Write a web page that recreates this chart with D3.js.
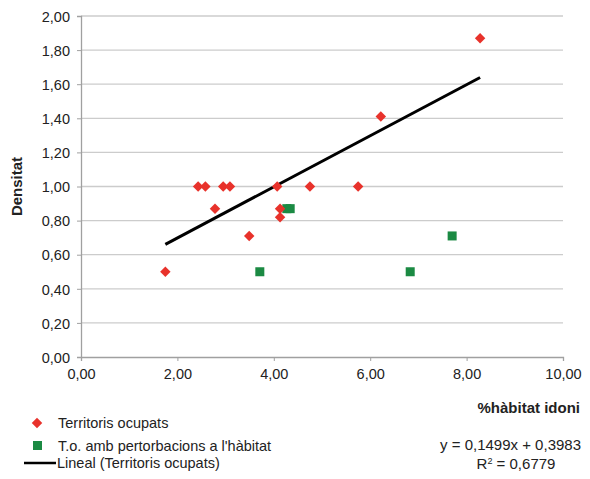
<!DOCTYPE html>
<html>
<head>
<meta charset="utf-8">
<script src="https://cdn.jsdelivr.net/npm/d3@7"></script>
<style>
  body { margin: 0; background: #fff; }
  text { font-family: "Liberation Sans", Arial, sans-serif; fill: #222; }
</style>
</head>
<body>
<script>
// Territoris ocupats (red diamonds)
var ocupatsX = [1.75, 2.43, 2.58, 2.78, 2.95, 3.09, 3.49, 4.07, 4.13, 4.13, 4.75, 5.75, 6.22, 8.28];
var ocupatsY = [0.50, 1.00, 1.00, 0.87, 1.00, 1.00, 0.71, 1.00, 0.87, 0.82, 1.00, 1.00, 1.41, 1.87];

// T.o. amb pertorbacions a l'habitat (green squares)
var pertX = [3.71, 4.27, 4.34, 6.83, 7.70];
var pertY = [0.50, 0.87, 0.87, 0.50, 0.71];

// linear trend of the occupied territories
var slope = 0.1499;
var intercept = 0.3983;

var xTicks = [0, 2, 4, 6, 8, 10];
var yTicks = [0, 0.2, 0.4, 0.6, 0.8, 1.0, 1.2, 1.4, 1.6, 1.8, 2.0];

var width = 590, height = 479;
var margin = {top: 16, right: 27, bottom: 122, left: 81};
var w = width - margin.left - margin.right;
var h = height - margin.top - margin.bottom;

var fmt = function(d) { return d3.format(".2f")(d).replace(".", ","); };

var xScale = d3.scaleLinear().domain([0, 10]).range([0, w]);
var yScale = d3.scaleLinear().domain([0, 2]).range([h, 0]);

var svg = d3.select("body").append("svg")
    .attr("width", width)
    .attr("height", height);

var g = svg.append("g")
    .attr("transform", "translate(" + margin.left + "," + margin.top + ")");

// gridlines
g.selectAll(".grid")
    .data(yTicks.slice(1))
  .enter().append("line")
    .attr("x1", 0).attr("x2", w)
    .attr("y1", function(d) { return yScale(d); })
    .attr("y2", function(d) { return yScale(d); })
    .attr("stroke", "#cccccc")
    .attr("stroke-width", 1.3);

// axes
var xAxis = g.append("g")
    .attr("transform", "translate(0," + h + ")")
    .call(d3.axisBottom(xScale).tickValues(xTicks).tickFormat(fmt).tickSize(4).tickPadding(8));
var yAxis = g.append("g")
    .call(d3.axisLeft(yScale).tickValues(yTicks).tickFormat(fmt).tickSize(4).tickPadding(7));

[xAxis, yAxis].forEach(function(a) {
  a.select(".domain").attr("stroke", "#a0a0a0").attr("stroke-width", 1.3);
  a.selectAll(".tick line").attr("stroke", "#a0a0a0");
  a.selectAll(".tick text")
    .style("font-family", "'Liberation Sans', Arial, sans-serif")
    .style("font-size", "14.5px")
    .attr("fill", "#222");
});
yAxis.selectAll(".tick text").attr("dy", "0.36em");

// trend line
var x0 = d3.min(ocupatsX), x1 = d3.max(ocupatsX);
var line = d3.line()
  .x(function(d) { return xScale(d); })
  .y(function(d) { return yScale(slope * d + intercept); });
g.append("path")
    .datum([x0, x1])
    .attr("d", line)
    .attr("fill", "none")
    .attr("stroke", "#000")
    .attr("stroke-width", 3);

// points
var diamond = d3.symbol().type(d3.symbolDiamond2).size(70);
var red = "#e8322b", green = "#1b8a43";

g.selectAll(".sq")
    .data(d3.zip(pertX, pertY))
  .enter().append("rect")
    .attr("x", function(d) { return xScale(d[0]) - 4.5; })
    .attr("y", function(d) { return yScale(d[1]) - 4.5; })
    .attr("width", 9).attr("height", 9)
    .attr("fill", green);

g.selectAll(".dot")
    .data(d3.zip(ocupatsX, ocupatsY))
  .enter().append("path")
    .attr("d", diamond)
    .attr("transform", function(d) { return "translate(" + xScale(d[0]) + "," + yScale(d[1]) + ")"; })
    .attr("fill", red);

// axis titles
svg.append("text")
    .attr("transform", "translate(22," + (margin.top + yScale(1)) + ") rotate(-90)")
    .attr("text-anchor", "middle")
    .style("font-size", "15px").style("font-weight", "bold")
    .text("Densitat");

svg.append("text")
    .attr("x", 580).attr("y", 413)
    .attr("text-anchor", "end")
    .style("font-size", "15px").style("font-weight", "bold")
    .text("%hàbitat idoni");

// equation
svg.append("text")
    .attr("x", 581).attr("y", 450)
    .attr("text-anchor", "end")
    .style("font-size", "15px")
    .text("y = 0,1499x + 0,3983");
var r2 = svg.append("text")
    .attr("x", 516).attr("y", 469)
    .attr("text-anchor", "middle")
    .style("font-size", "15px");
r2.append("tspan").text("R");
r2.append("tspan").attr("dy", -5).style("font-size", "9px").text("2");
r2.append("tspan").attr("dy", 5).text(" = 0,6779");

// legend
var leg = svg.append("g");
leg.append("path")
    .attr("d", diamond)
    .attr("transform", "translate(37,423)")
    .attr("fill", red);
leg.append("text").attr("x", 58).attr("y", 428)
    .style("font-size", "14.5px").text("Territoris ocupats");
leg.append("rect")
    .attr("x", 33).attr("y", 441).attr("width", 9).attr("height", 9)
    .attr("fill", green);
leg.append("text").attr("x", 58).attr("y", 451)
    .style("font-size", "14.5px").text("T.o. amb pertorbacions a l'hàbitat");
leg.append("line")
    .attr("x1", 24).attr("x2", 56).attr("y1", 463).attr("y2", 463)
    .attr("stroke", "#000").attr("stroke-width", 2.5);
leg.append("text").attr("x", 57).attr("y", 468)
    .style("font-size", "14.5px").text("Lineal (Territoris ocupats)");
</script>
</body>
</html>
